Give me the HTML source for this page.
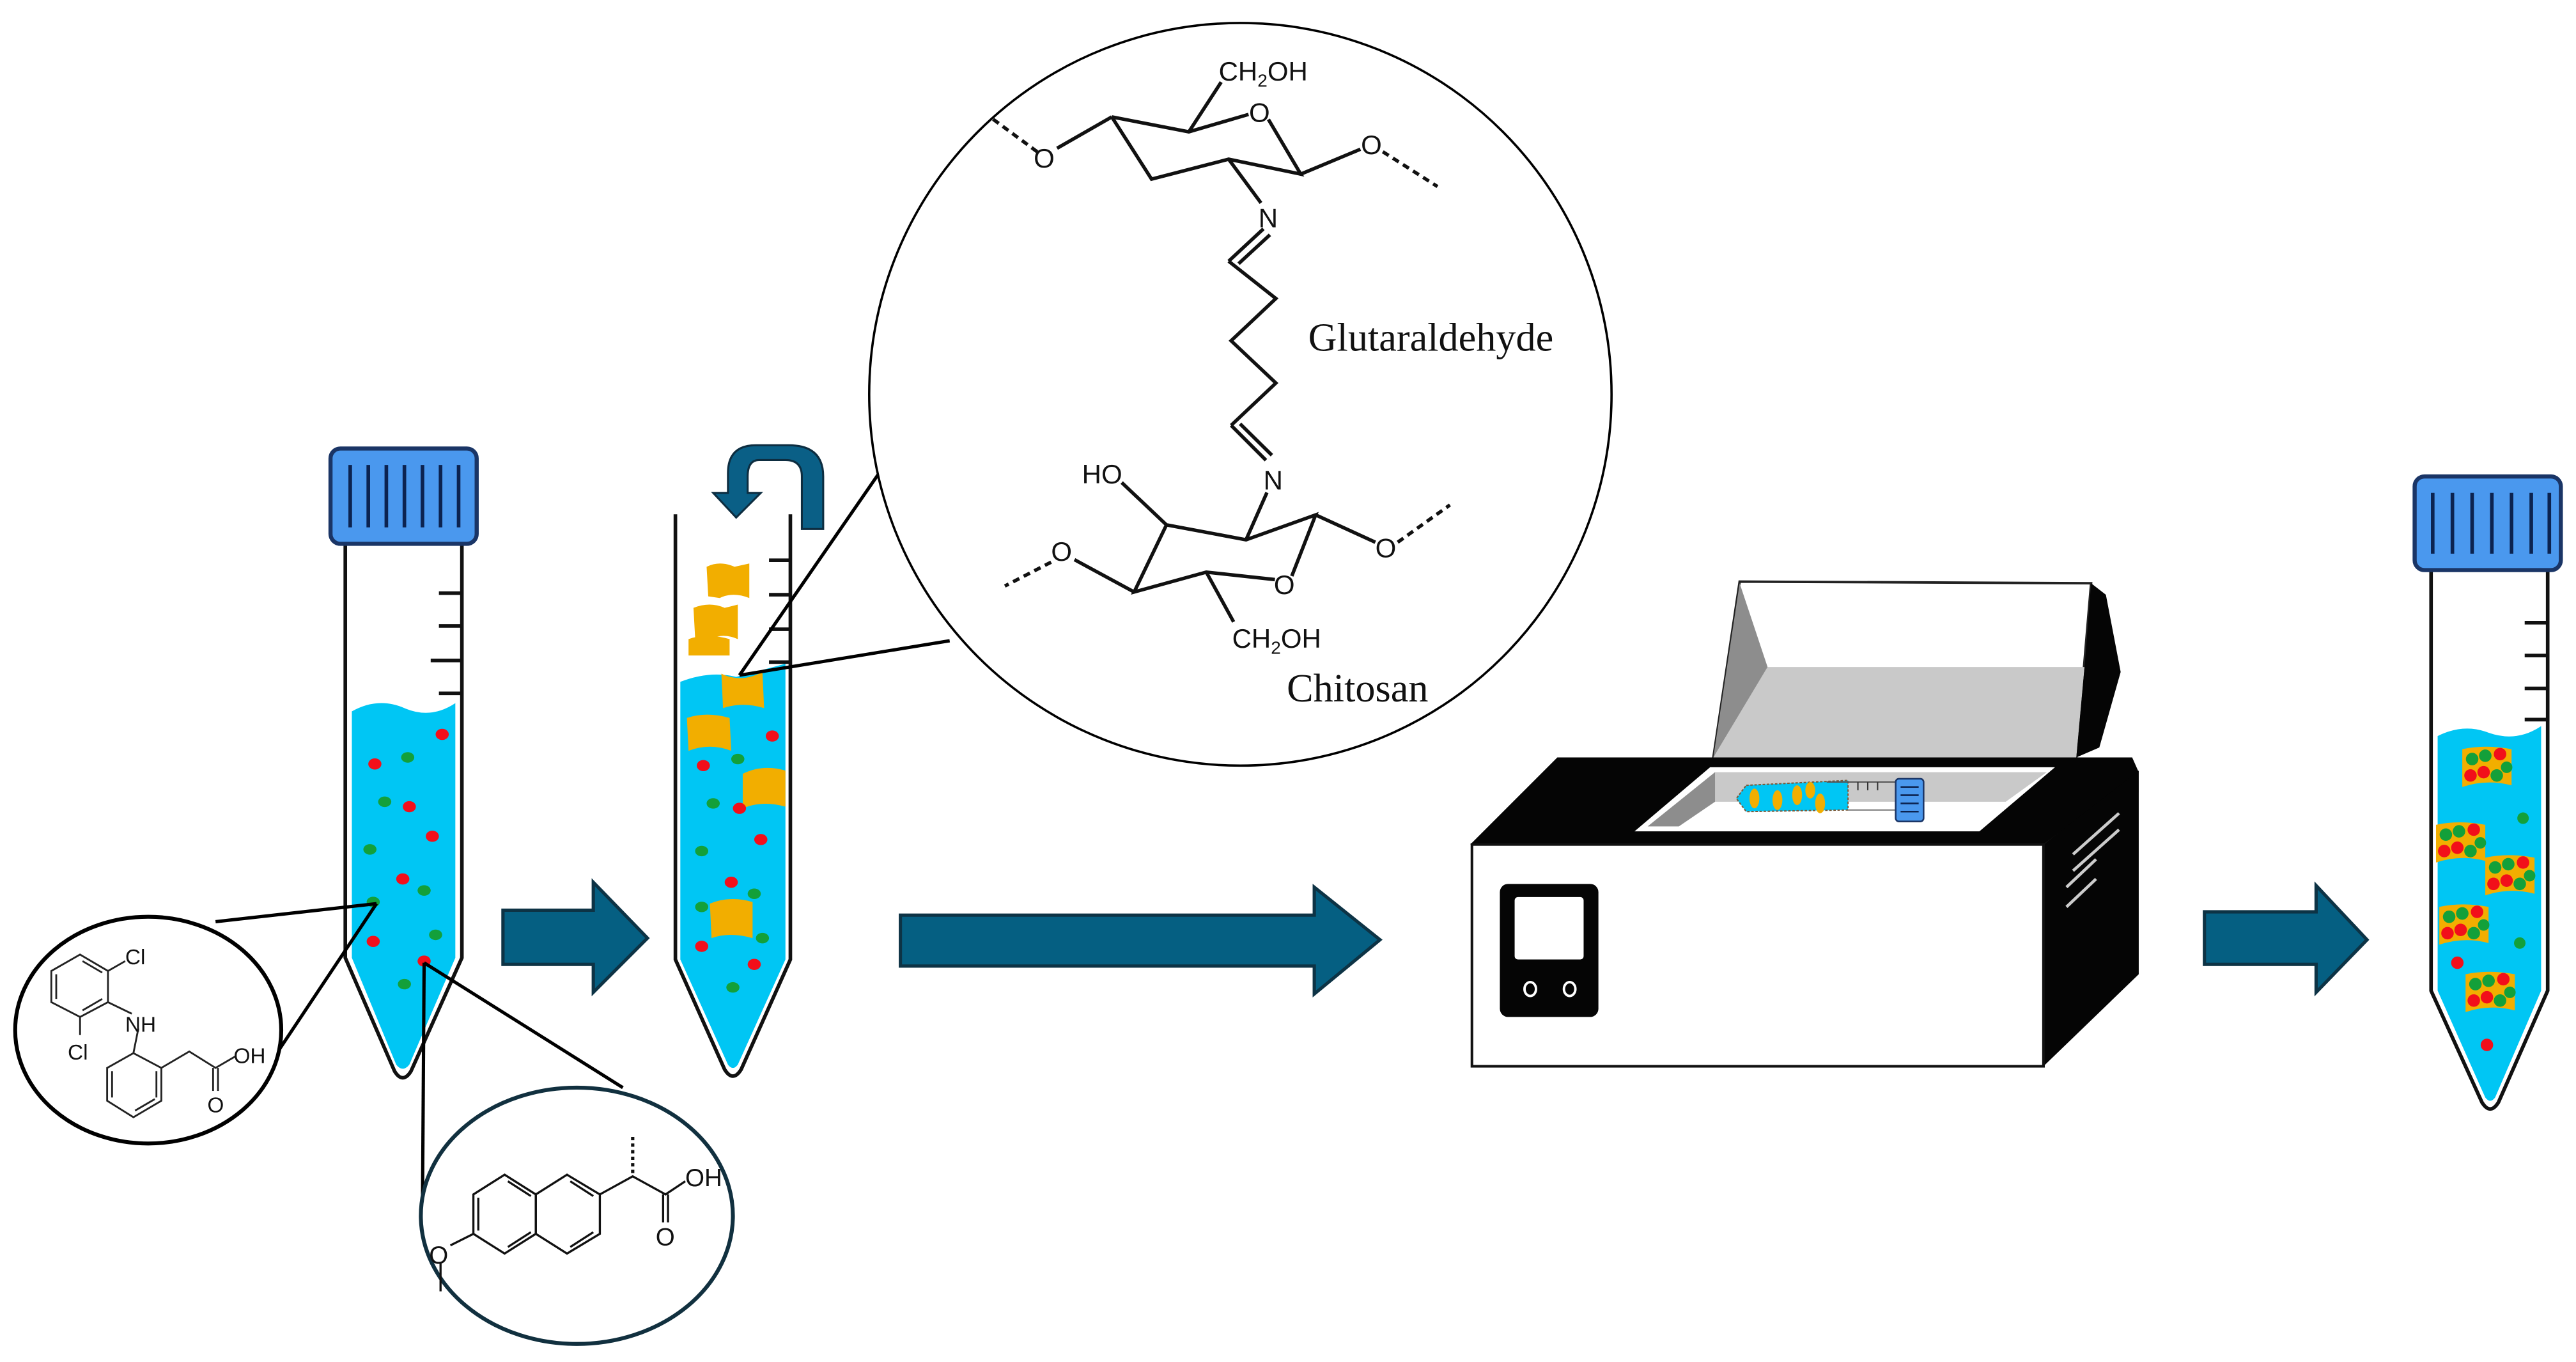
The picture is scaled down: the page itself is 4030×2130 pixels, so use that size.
<!DOCTYPE html>
<html><head><meta charset="utf-8"><style>html,body{margin:0;padding:0;background:#fff;width:4030px;height:2130px;overflow:hidden}</style></head>
<body>
<svg width="4030" height="2130" viewBox="0 0 1568 829" xmlns="http://www.w3.org/2000/svg" font-family="'Liberation Sans', sans-serif">
<rect width="1568" height="829" fill="#fff"/>

<!-- ===== Tube 1 ===== -->
<path d="M214,433 Q230,424 246,431 Q262,438 277,428 L277,583 L249,648 Q245,653 241,648 L214,583 Z" fill="#00c6f4"/>
<path d="M210,332 L210,583 L240,652 Q245,660 250,652 L281,583 L281,332" fill="none" stroke="#111" stroke-width="2.2"/>
<g stroke="#111" stroke-width="2.2"><line x1="267" y1="361" x2="281" y2="361"/><line x1="267" y1="381" x2="281" y2="381"/><line x1="262" y1="402" x2="281" y2="402"/><line x1="267" y1="422" x2="281" y2="422"/></g>
<rect x="201" y="273" width="89" height="58" rx="6" fill="#4a98ee" stroke="#1a3566" stroke-width="2.5"/>
<g stroke="#0c2350" stroke-width="2.2"><line x1="213" y1="283" x2="213" y2="321"/><line x1="224" y1="283" x2="224" y2="321"/><line x1="235" y1="283" x2="235" y2="321"/><line x1="246" y1="283" x2="246" y2="321"/><line x1="257" y1="283" x2="257" y2="321"/><line x1="268" y1="283" x2="268" y2="321"/><line x1="279" y1="283" x2="279" y2="321"/></g>
<g fill="#f20f1a"><ellipse cx="269" cy="447" rx="4" ry="3.4"/><ellipse cx="228" cy="465" rx="4" ry="3.4"/><ellipse cx="249" cy="491" rx="4" ry="3.4"/><ellipse cx="263" cy="509" rx="4" ry="3.4"/><ellipse cx="245" cy="535" rx="4" ry="3.4"/><ellipse cx="227" cy="573" rx="4" ry="3.4"/><ellipse cx="258" cy="585" rx="4" ry="3.4"/></g>
<g fill="#13a03a"><ellipse cx="248" cy="461" rx="4" ry="3.2"/><ellipse cx="234" cy="488" rx="4" ry="3.2"/><ellipse cx="225" cy="517" rx="4" ry="3.2"/><ellipse cx="258" cy="542" rx="4" ry="3.2"/><ellipse cx="265" cy="569" rx="4" ry="3.2"/><ellipse cx="246" cy="599" rx="4" ry="3.2"/><ellipse cx="227" cy="549" rx="4" ry="3.2"/></g>

<g stroke="#000" stroke-width="2" fill="none">
<line x1="229" y1="550" x2="131" y2="561"/><line x1="229" y1="550" x2="163" y2="649"/>
<line x1="258" y1="586" x2="257" y2="734"/><line x1="258" y1="586" x2="379" y2="662"/>
</g>
<!-- Ellipse 1 : diclofenac -->
<ellipse cx="90" cy="627" rx="81" ry="69" fill="#fff" stroke="#000" stroke-width="2.4"/>
<g stroke="#222" stroke-width="1.1" fill="none">
<polygon points="48.5,581 65.5,591 65.5,610 48.5,619 31,610 31,591"/>
<line x1="34" y1="593" x2="34" y2="608"/><line x1="50" y1="585" x2="62" y2="592"/><line x1="50" y1="615" x2="62" y2="608"/>
<line x1="65.5" y1="591" x2="76" y2="585"/><line x1="65.5" y1="610" x2="80" y2="617"/><line x1="48.5" y1="619" x2="48.5" y2="630"/>
<line x1="84" y1="626" x2="81" y2="641"/>
<polygon points="81,641 98,650 98,670 81,680 65,670 65,650"/>
<line x1="68" y1="652" x2="68" y2="668"/><line x1="95" y1="652" x2="95" y2="668"/><line x1="82" y1="676" x2="94" y2="669"/>
<polyline points="98,650 115,640 131,650 143,643"/>
<line x1="129.5" y1="650" x2="129.5" y2="664"/><line x1="132.5" y1="650" x2="132.5" y2="664"/>
</g>
<g font-size="13" fill="#111"><text x="76" y="587">Cl</text><text x="76" y="628">NH</text><text x="41" y="645">Cl</text><text x="142" y="647">OH</text><text x="126" y="677">O</text></g>

<!-- Ellipse 2 : naproxen -->
<ellipse cx="351" cy="740" rx="95" ry="78" fill="#fff" stroke="#11303f" stroke-width="2.4"/>
<g stroke="#111" stroke-width="1.3" fill="none">
<polygon points="307,715 326,727 326,751 307,763 288,751 288,727"/>
<polygon points="345,715 365,727 365,751 345,763 326,751 326,727"/>
<line x1="291" y1="729" x2="291" y2="749"/><line x1="309" y1="719" x2="323" y2="728"/><line x1="309" y1="759" x2="323" y2="750"/>
<line x1="347" y1="719" x2="361" y2="728"/><line x1="347" y1="759" x2="361" y2="750"/>
<line x1="288" y1="751" x2="274" y2="758"/><line x1="268" y1="769" x2="268" y2="786"/>
<polyline points="365,727 385,716 405,727 417,719"/>
<line x1="403.5" y1="727" x2="403.5" y2="744"/><line x1="406.5" y1="727" x2="406.5" y2="744"/>
<line x1="385" y1="714" x2="385" y2="692" stroke-dasharray="2,2" stroke-width="2"/>
</g>
<g font-size="15" fill="#111"><text x="261" y="769">O</text><text x="417" y="722">OH</text><text x="399" y="758">O</text></g>

<!-- Arrow 1 -->
<polygon points="306,554 361,554 361,537 394,571 361,604 361,587 306,587" fill="#055f82" stroke="#0d3345" stroke-width="2"/>

<!-- ===== Tube 2 ===== -->
<path d="M414,415 Q432,408 448,412 L478,404 L478,584 L449,648 Q446,652 443,648 L414,584 Z" fill="#00c6f4"/>
<path d="M411,313 L411,584 L441,651 Q446,659 451,651 L481,584 L481,313" fill="none" stroke="#111" stroke-width="2.2"/>
<g stroke="#111" stroke-width="2.2"><line x1="468" y1="341" x2="481" y2="341"/><line x1="468" y1="362" x2="481" y2="362"/><line x1="468" y1="383" x2="481" y2="383"/><line x1="468" y1="403" x2="481" y2="403"/></g>
<g fill="#f2ae00">
<path d="M430,345 Q438,341 447,345 L456,343 L456,364 Q446,360 438,364 L431,363 Z"/>
<path d="M422,370 Q432,366 441,370 L449,368 L449,389 Q440,385 432,389 L423,388 Z"/>
<path d="M419,389 Q430,385 444,389 L444,399 L419,399 Z"/>
<path d="M439,410 Q451,416 464,409 L465,431 Q452,427 440,431 Z"/>
<path d="M418,437 Q430,433 444,437 L445,457 Q432,452 419,457 Z"/>
<path d="M452,471 Q464,465 478,469 L478,491 Q464,487 452,492 Z"/>
<path d="M432,550 Q444,545 458,549 L458,571 Q444,567 433,571 Z"/>
</g>
<g fill="#f20f1a"><ellipse cx="470" cy="448" rx="4" ry="3.4"/><ellipse cx="428" cy="466" rx="4" ry="3.4"/><ellipse cx="450" cy="492" rx="4" ry="3.4"/><ellipse cx="463" cy="511" rx="4" ry="3.4"/><ellipse cx="445" cy="537" rx="4" ry="3.4"/><ellipse cx="427" cy="576" rx="4" ry="3.4"/><ellipse cx="459" cy="587" rx="4" ry="3.4"/></g>
<g fill="#13a03a"><ellipse cx="449" cy="462" rx="4" ry="3.2"/><ellipse cx="434" cy="489" rx="4" ry="3.2"/><ellipse cx="427" cy="518" rx="4" ry="3.2"/><ellipse cx="459" cy="544" rx="4" ry="3.2"/><ellipse cx="427" cy="552" rx="4" ry="3.2"/><ellipse cx="464" cy="571" rx="4" ry="3.2"/><ellipse cx="446" cy="601" rx="4" ry="3.2"/></g>
<path d="M488,322 L488,290 Q488,280 478,280 L462,280 Q455,280 455,290 L455,300 L463,300 L448,315 L434,300 L443,300 L443,288 Q443,271 460,271 L480,271 Q501,271 501,290 L501,322 Z" fill="#0a5f86" stroke="#0d2d40" stroke-width="1.2"/>

<g stroke="#000" stroke-width="2"><line x1="450" y1="411" x2="535" y2="288"/><line x1="450" y1="411" x2="578" y2="390"/></g>

<!-- ===== Big circle ===== -->
<circle cx="755" cy="240" r="226" fill="#fff" stroke="#000" stroke-width="1.4"/>
<g transform="translate(525.3,0) scale(0.3028)">
<g stroke="#111" stroke-width="7" fill="none">
<polyline points="500,235 655,265 775,230"/>
<polyline points="815,240 880,350 735,320 580,360 500,235"/>
<line x1="655" y1="265" x2="720" y2="165"/>
<line x1="500" y1="235" x2="390" y2="298"/>
<line x1="350" y1="305" x2="255" y2="235" stroke-dasharray="14,10"/>
<line x1="880" y1="350" x2="1000" y2="300"/>
<line x1="1045" y1="305" x2="1155" y2="375" stroke-dasharray="14,10"/>
<line x1="735" y1="320" x2="800" y2="408"/>
<line x1="805" y1="460" x2="735" y2="525"/><line x1="818" y1="472" x2="755" y2="530"/>
<polyline points="735,525 830,600 740,685 830,770 740,855"/>
<line x1="740" y1="855" x2="810" y2="925"/><line x1="758" y1="852" x2="822" y2="915"/>
<line x1="812" y1="990" x2="770" y2="1085"/>
<polyline points="520,970 610,1055 770,1085 910,1035 862,1158"/>
<polyline points="828,1165 690,1150 545,1190 610,1055"/>
<line x1="690" y1="1150" x2="745" y2="1250"/>
<line x1="425" y1="1125" x2="545" y2="1190"/>
<line x1="378" y1="1130" x2="285" y2="1178" stroke-dasharray="14,10"/>
<line x1="910" y1="1035" x2="1030" y2="1090"/>
<line x1="1075" y1="1090" x2="1180" y2="1015" stroke-dasharray="14,10"/>
</g>
<g font-size="54" fill="#111">
<text x="715" y="162">CH<tspan font-size="36" dy="12">2</tspan><tspan dy="-12">OH</tspan></text>
<text x="776" y="245">O</text><text x="343" y="337">O</text><text x="1001" y="310">O</text>
<text x="795" y="457">N</text><text x="805" y="984">N</text>
<text x="440" y="972">HO</text><text x="378" y="1127">O</text><text x="826" y="1194">O</text><text x="1030" y="1120">O</text>
<text x="742" y="1302">CH<tspan font-size="36" dy="12">2</tspan><tspan dy="-12">OH</tspan></text>
</g>
<g font-family="'Liberation Serif', serif" font-size="80" fill="#111">
<text x="895" y="705">Glutaraldehyde</text>
<text x="852" y="1410">Chitosan</text>
</g>
</g>

<!-- Arrow 2 -->
<polygon points="548,557 800,557 800,540 840,572 800,605 800,588 548,588" fill="#055f82" stroke="#0d3345" stroke-width="2"/>

<!-- ===== Incubator ===== -->
<polygon points="1059,354 1273,355 1264,461 1043,461" fill="#fff" stroke="#222" stroke-width="1.5"/>
<polygon points="1076,406 1269,406 1264,461 1043,461" fill="#c9c9c9"/>
<polygon points="1059,355 1076,406 1043,461" fill="#8d8d8d"/>
<polygon points="1273,355 1282,362 1291,409 1278,455 1264,461 1269,406" fill="#050505"/>
<polygon points="895,514 948,461 1298,461 1302,470 1244,514" fill="#050505"/>
<polygon points="995,506 1041,467 1251,467 1205,506" fill="#fff"/>
<polygon points="1003,503 1044,470 1246,470 1221,488 1040,488 1022,503" fill="#c9c9c9"/>
<polygon points="1003,503 1044,470 1044,488 1022,503" fill="#8d8d8d"/>
<path d="M1063,478 L1125,475 L1125,493 L1063,494 L1057,486 Z" fill="#00c6f4" stroke="#7a5a3a" stroke-width="0.8" stroke-dasharray="1.5,1"/>
<line x1="1125" y1="493" x2="1156" y2="493" stroke="#999" stroke-width="1"/>
<line x1="1112" y1="476" x2="1156" y2="476" stroke="#555" stroke-width="0.8"/>
<g stroke="#333" stroke-width="0.8"><line x1="1131" y1="476" x2="1131" y2="481"/><line x1="1137" y1="476" x2="1137" y2="481"/><line x1="1143" y1="476" x2="1143" y2="481"/></g>
<g fill="#f2ae00"><ellipse cx="1068" cy="486" rx="3" ry="6"/><ellipse cx="1082" cy="487" rx="3" ry="6"/><ellipse cx="1094" cy="484" rx="3" ry="6"/><ellipse cx="1102" cy="481" rx="3" ry="5"/><ellipse cx="1108" cy="489" rx="3" ry="6"/></g>
<rect x="1154" y="474" width="17" height="26" rx="2" fill="#4a98ee" stroke="#1a3566" stroke-width="1"/>
<g stroke="#0c2350" stroke-width="1"><line x1="1157" y1="479" x2="1168" y2="479"/><line x1="1157" y1="484" x2="1168" y2="484"/><line x1="1157" y1="489" x2="1168" y2="489"/><line x1="1157" y1="494" x2="1168" y2="494"/></g>
<polygon points="1244,514 1302,469 1302,593 1244,649" fill="#050505"/>
<g stroke="#ccc" stroke-width="1.8"><line x1="1262" y1="520" x2="1290" y2="495"/><line x1="1262" y1="530" x2="1290" y2="505"/><line x1="1258" y1="540" x2="1276" y2="523"/><line x1="1258" y1="552" x2="1276" y2="535"/></g>
<rect x="896" y="514" width="348" height="135" fill="#fff" stroke="#111" stroke-width="1.6"/>
<rect x="913" y="538" width="60" height="81" rx="5" fill="#050505"/>
<rect x="922" y="546" width="42" height="38" rx="2" fill="#fff"/>
<ellipse cx="931.5" cy="602" rx="3.5" ry="4.2" fill="none" stroke="#fff" stroke-width="1.5"/>
<ellipse cx="955.5" cy="602" rx="3.5" ry="4.2" fill="none" stroke="#fff" stroke-width="1.5"/>

<!-- Arrow 3 -->
<polygon points="1342,555 1410,555 1410,539 1441,572 1410,604 1410,587 1342,587" fill="#055f82" stroke="#0d3345" stroke-width="2"/>

<!-- ===== Tube 3 ===== -->
<path d="M1484,448 Q1500,440 1515,446 Q1532,452 1547,442 L1547,603 L1519,668 Q1516,672 1513,668 L1484,603 Z" fill="#00c6f4"/>
<path d="M1480,347 L1480,603 L1511,671 Q1516,679 1521,671 L1551,603 L1551,347" fill="none" stroke="#111" stroke-width="2.2"/>
<g stroke="#111" stroke-width="2.2"><line x1="1537" y1="379" x2="1551" y2="379"/><line x1="1537" y1="399" x2="1551" y2="399"/><line x1="1537" y1="419" x2="1551" y2="419"/><line x1="1537" y1="438" x2="1551" y2="438"/></g>
<rect x="1470" y="290" width="89" height="57" rx="6" fill="#4a98ee" stroke="#1a3566" stroke-width="2.5"/>
<g stroke="#0c2350" stroke-width="2.2"><line x1="1481" y1="300" x2="1481" y2="337"/><line x1="1493" y1="300" x2="1493" y2="337"/><line x1="1505" y1="300" x2="1505" y2="337"/><line x1="1517" y1="300" x2="1517" y2="337"/><line x1="1529" y1="300" x2="1529" y2="337"/><line x1="1541" y1="300" x2="1541" y2="337"/><line x1="1552" y1="300" x2="1552" y2="337"/></g>
<defs>
<g id="cl">
<path d="M-15,-11 Q-1,-14 15,-11 L15,11 Q0,7 -15,12 Z" fill="#f2ae00"/>
<circle cx="-9" cy="-5" r="3.8" fill="#13a03a"/><circle cx="-1" cy="-7" r="3.8" fill="#13a03a"/><circle cx="8" cy="-8" r="3.8" fill="#f20f1a"/>
<circle cx="-10" cy="5" r="3.8" fill="#f20f1a"/><circle cx="-2" cy="3" r="3.8" fill="#f20f1a"/><circle cx="6" cy="5" r="3.8" fill="#13a03a"/><circle cx="12" cy="0" r="3.5" fill="#13a03a"/>
</g>
</defs>
<use href="#cl" x="1514" y="467"/><use href="#cl" x="1498" y="513"/><use href="#cl" x="1528" y="533"/><use href="#cl" x="1500" y="563"/><use href="#cl" x="1516" y="604"/>
<circle cx="1536" cy="498" r="3.5" fill="#13a03a"/><circle cx="1534" cy="574" r="3.5" fill="#13a03a"/>
<circle cx="1496" cy="586" r="3.8" fill="#f20f1a"/><circle cx="1514" cy="636" r="3.8" fill="#f20f1a"/>
</svg>
</body></html>
